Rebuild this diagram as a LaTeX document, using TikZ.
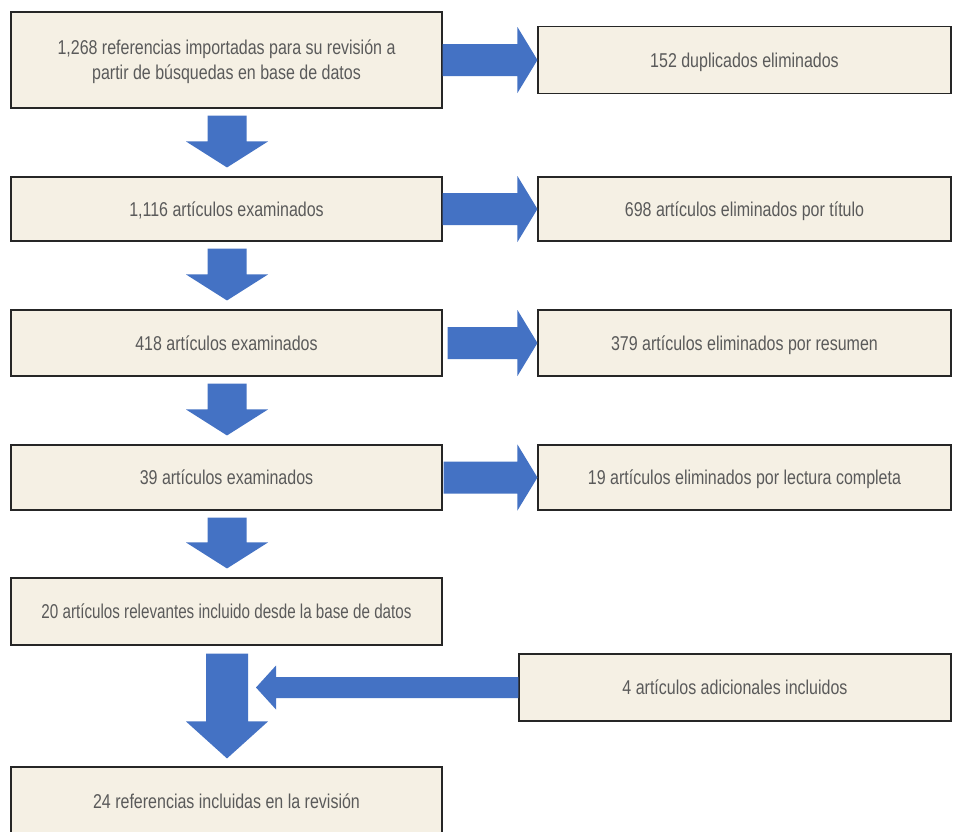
\documentclass[tikz,border=0pt]{standalone}
\usepackage{fontspec}
\setmainfont{Liberation Sans}[FakeStretch=0.8]
\usetikzlibrary{calc}
\definecolor{boxfill}{HTML}{F5F0E4}
\definecolor{arrblue}{HTML}{4472C4}
\definecolor{txtgrey}{HTML}{5A5A5A}
\tikzset{
  box/.style={draw=black!85, line width=1.1pt, fill=boxfill, text=txtgrey, align=center,
    inner sep=0pt, text depth=0pt, font=\fontsize{20}{25}\selectfont},
  lbox/.style={box, minimum width=431pt},
  rbox/.style={box, minimum width=413pt},
  arr/.style={fill=arrblue, draw=none}
}
\newcommand\rightblock[3]{%
  \fill[arr] let \p1=($(#1.east)+(#3,0)$), \p2=(#2.west) in
    (\x1,\y2+16pt) -- (\x2-20pt,\y2+16pt) -- (\x2-20pt,\y2+33pt) -- (\x2,\y2)
    -- (\x2-20pt,\y2-33pt) -- (\x2-20pt,\y2-16pt) -- (\x1,\y2-16pt) -- cycle;}
\newcommand\downblock[2]{%
  \fill[arr] let \p1=($(#1.south)+(0.5,7)$), \p2=($(#2.north)+(0.5,-9)$) in
    (\x1-19.5pt,\y1) -- (\x1+19.5pt,\y1) -- (\x1+19.5pt,\y2+26pt) -- (\x1+41pt,\y2+26pt)
    -- (\x1,\y2) -- (\x1-41pt,\y2+26pt) -- (\x1-19.5pt,\y2+26pt) -- cycle;}
\begin{document}
\begin{tikzpicture}[x=1pt,y=-1pt]
\useasboundingbox (0,0) rectangle (954,831);
\fill[white] (0,0) rectangle (954,831);
% left column
\node[lbox, minimum height=96pt] (b1) at (226.5,60) {1,268 referencias importadas para su revisión a\\partir de búsquedas en base de datos};
\node[lbox, minimum height=64pt] (b2) at (226.5,209) {1,116 artículos examinados};
\node[lbox, minimum height=66pt] (b3) at (226.5,343) {418 artículos examinados};
\node[lbox, minimum height=65pt] (b4) at (226.5,477.5) {39 artículos examinados};
\node[lbox, minimum height=67pt] (b5) at (226.5,611.5) {\scalebox{0.95}[1]{20 artículos relevantes incluido desde la base de datos}};
\node[lbox, minimum height=68pt] (b6) at (226.5,801) {24 referencias incluidas en la revisión};
% right column
\node[rbox, minimum height=67pt] (r1) at (744.5,60) {152 duplicados eliminados};
\node[rbox, minimum height=64pt] (r2) at (744.5,209) {698 artículos eliminados por título};
\node[rbox, minimum height=66pt] (r3) at (744.5,343) {379 artículos eliminados por resumen};
\node[rbox, minimum height=65pt] (r4) at (744.5,477.5) {19 artículos eliminados por lectura completa};
\node[box, minimum width=432pt, minimum height=67pt] (r5) at (735,687.5) {4 artículos adicionales incluidos};
% horizontal arrows
\rightblock{b1}{r1}{0}
\rightblock{b2}{r2}{0}
\rightblock{b3}{r3}{5}
\rightblock{b4}{r4}{1}
% vertical arrows
\downblock{b1}{b2}
\downblock{b2}{b3}
\downblock{b3}{b4}
\downblock{b4}{b5}
% big arrow
\fill[arr] let \p1=($(b5.south)+(0.5,8)$), \p2=($(b6.north)+(0.5,-8)$) in
  (\x1-21pt,\y1) -- (\x1+21pt,\y1) -- (\x1+21pt,\y2+37pt) -- (\x1+41pt,\y2+37pt)
  -- (\x1,\y2) -- (\x1-41pt,\y2+37pt) -- (\x1-21pt,\y2+37pt) -- cycle;
% left arrow
\coordinate (tip) at (256,687.5);
\fill[arr] let \p1=(r5.west), \p2=(tip) in
  (\x1,\y1+10.5pt) -- (\x2+20pt,\y1+10.5pt) -- (\x2+20pt,\y1+22pt) -- (\x2,\y1)
  -- (\x2+20pt,\y1-22pt) -- (\x2+20pt,\y1-10.5pt) -- (\x1,\y1-10.5pt) -- cycle;
\end{tikzpicture}
\end{document}
